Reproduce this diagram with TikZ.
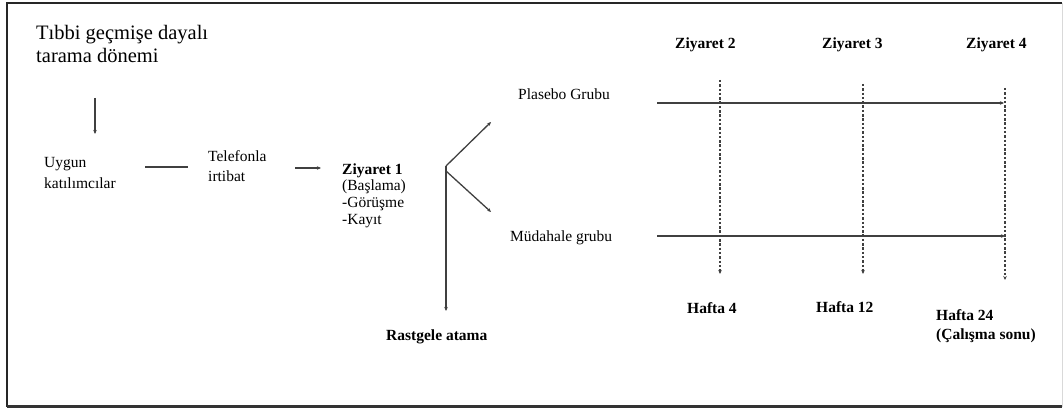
\documentclass[tikz,border=0pt]{standalone}
\usepackage{fontspec}
\setmainfont{Liberation Serif}
\usetikzlibrary{arrows.meta}
\begin{document}
\begin{tikzpicture}[x=1pt,y=-1pt,
  txt/.style={inner sep=0pt,anchor=base west,font=\fontsize{15.5}{18}\selectfont},
  btxt/.style={txt,font=\fontsize{15.5}{18}\selectfont\bfseries},
  ttl/.style={txt,font=\fontsize{20.5}{23}\selectfont},
  conn/.style={draw=black!75,line width=1.3pt},
  arr/.style={conn,-{Stealth[length=4pt,width=3.5pt]}},
  visit/.style={draw=black!75,line width=1.3pt,dash pattern=on 2.5pt off 1.8pt,
    -{Stealth[length=4pt,width=3.5pt]}}]
\useasboundingbox (0,0) rectangle (1064,411);
% outer frame
\draw[black!85,line width=2pt] (6.5,406.5) -- (6.5,3.5) -- (1062,3.5);
\draw[black!80,line width=2.2pt] (6.5,406.5) -- (1062,406.5);
\draw[black!15,line width=0.8pt] (1062,3.5) -- (1062,406.5);

% screening and recruitment
\node[ttl] (title1) at (36,40) {Tıbbi geçmişe dayalı};
\node[ttl] (title2) at (36,63) {tarama dönemi};
\node[txt] (uyg1) at (44,168) {Uygun};
\node[txt] (uyg2) at (44,189) {katılımcılar};
\node[txt] (tel1) at (208,162) {Telefonla};
\node[txt] (tel2) at (208,182) {irtibat};
\node[btxt] (v1) at (342,175) {Ziyaret 1};
\node[txt] (v1a) at (342,191) {(Başlama)};
\node[txt] (v1b) at (342,208) {-Görüşme};
\node[txt] (v1c) at (342,225) {-Kayıt};

\coordinate (dn1) at (95,98);
\coordinate (dn2) at (95,134);
\draw[arr] (dn1) -- (dn2);
\coordinate (ln1) at (145,167);
\coordinate (ln2) at (188,167);
\draw[conn] (ln1) -- (ln2);
\coordinate (ar1) at (295,168);
\coordinate (ar2) at (321,168);
\draw[arr] (ar1) -- (ar2);

% randomisation
\coordinate (fork) at (446,166);
\coordinate (fork2) at (446,171);
\coordinate (toP) at (491,122);
\coordinate (toM) at (491,212);
\coordinate (toR) at (446,311);
\draw[arr] (fork) -- (toP);
\draw[arr] (fork2) -- (toM);
\draw[arr] (fork) -- (toR);
\node[btxt] (rand) at (386,340) {Rastgele atama};

% study arms
\node[txt] (plac) at (518,100) {Plasebo Grubu};
\node[txt] (inter) at (510,242) {Müdahale grubu};
\coordinate (p0) at (657,103);
\coordinate (p1) at (1004,103);
\coordinate (m0) at (657,236);
\coordinate (m1) at (1005,236);
\draw[arr] (p0) -- (p1);
\draw[arr] (m0) -- (m1);

% follow-up visits
\node[btxt] (v2) at (675,49) {Ziyaret 2};
\node[btxt] (v3) at (822,49) {Ziyaret 3};
\node[btxt] (v4) at (966,49) {Ziyaret 4};
\node[btxt] (w4) at (687,313) {Hafta 4};
\node[btxt] (w12) at (816,312) {Hafta 12};
\node[btxt] (w24) at (936,320) {Hafta 24};
\node[btxt] (w24b) at (936,339) {(Çalışma sonu)};
\coordinate (d2a) at (720,80);
\coordinate (d2b) at (720,274);
\coordinate (d3a) at (863,84);
\coordinate (d3b) at (863,274);
\coordinate (d4a) at (1005,88);
\coordinate (d4b) at (1005,280);
\draw[visit] (d2a) -- (d2b);
\draw[visit] (d3a) -- (d3b);
\draw[visit] (d4a) -- (d4b);
\end{tikzpicture}
\end{document}
